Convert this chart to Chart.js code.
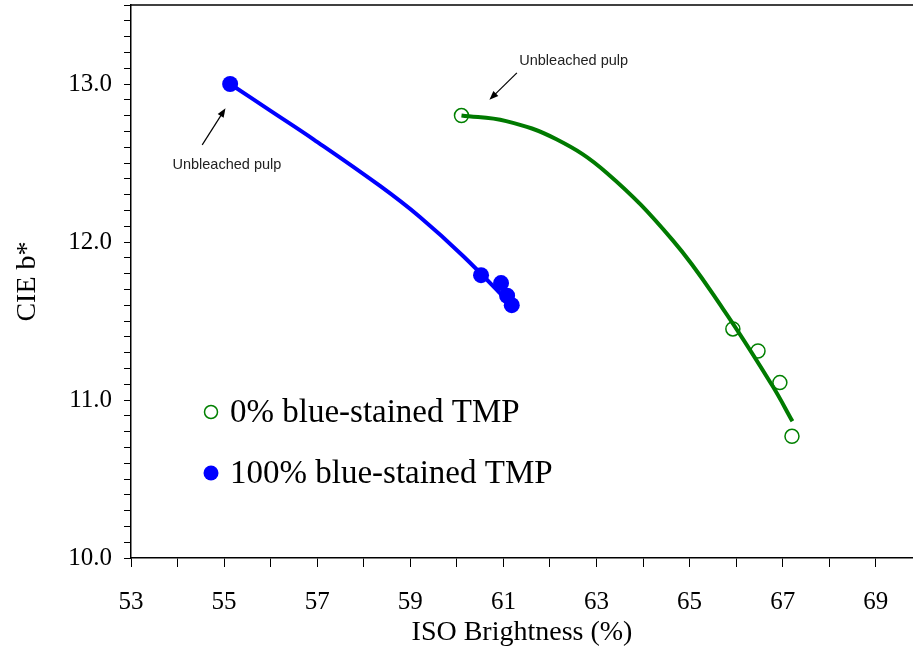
<!DOCTYPE html>
<html>
<head>
<meta charset="utf-8">
<script src="https://cdn.jsdelivr.net/npm/chart.js@4"></script>
<style>
  html, body { margin: 0; padding: 0; background: #fff; overflow: hidden; }
  #wrap { width: 913px; height: 653px; position: relative; }
</style>
</head>
<body>
<div id="wrap"><canvas id="cieChart"></canvas></div>
<script>
// measured points, ISO brightness (%) vs CIE b*
const greenX = [60.10, 65.93, 66.47, 66.94, 67.20];
const greenY = [12.80, 11.45, 11.31, 11.11, 10.77];
const blueX = [55.13, 60.52, 60.95, 61.08, 61.18];
const blueY = [13.00, 11.79, 11.74, 11.66, 11.60];

// fitted curves
const greenFitX = [60.10, 61.06, 62.14, 63.21, 64.64, 65.71, 66.78, 67.21];
const greenFitY = [12.80, 12.765, 12.65, 12.44, 12.01, 11.58, 11.09, 10.865];
const blueFitX = [55.13, 56.00, 56.92, 58.35, 59.20, 60.14, 61.18];
const blueFitY = [13.00, 12.83, 12.65, 12.355, 12.16, 11.91, 11.60];

const legendLabels = ['0% blue-stained TMP', '100% blue-stained TMP'];
const noteText = 'Unbleached pulp';

function pts(xs, ys) {
    return xs.map((x, i) => ({ x: x, y: ys[i] }));
}

const serif = '"Liberation Serif", "Times New Roman", serif';

// frame top, arrows + notes + legend drawn over the plot
const overlay = {
    id: 'overlay',
    afterDatasetsDraw(chart) {
        const ctx = chart.ctx;
        const xs = chart.scales.x, ys = chart.scales.y;
        const px = v => xs.getPixelForValue(v);
        const py = v => ys.getPixelForValue(v);
        const area = chart.chartArea;

        ctx.save();
        ctx.strokeStyle = '#000';
        ctx.lineWidth = 1.5;
        ctx.beginPath();
        ctx.moveTo(area.left, area.top);
        ctx.lineTo(chart.width, area.top);
        ctx.stroke();
        ctx.restore();

        function arrow(x1, y1, x2, y2) {
            const a = Math.atan2(y2 - y1, x2 - x1);
            ctx.save();
            ctx.strokeStyle = '#000';
            ctx.fillStyle = '#000';
            ctx.lineWidth = 1.2;
            ctx.beginPath();
            ctx.moveTo(x1, y1);
            ctx.lineTo(x2 - 6 * Math.cos(a), y2 - 6 * Math.sin(a));
            ctx.stroke();
            ctx.beginPath();
            ctx.moveTo(x2, y2);
            ctx.lineTo(x2 - 9 * Math.cos(a) + 3.5 * Math.sin(a), y2 - 9 * Math.sin(a) - 3.5 * Math.cos(a));
            ctx.lineTo(x2 - 9 * Math.cos(a) - 3.5 * Math.sin(a), y2 - 9 * Math.sin(a) + 3.5 * Math.cos(a));
            ctx.closePath();
            ctx.fill();
            ctx.restore();
        }

        ctx.save();
        ctx.font = '14.5px "Liberation Sans", Arial, sans-serif';
        ctx.fillStyle = '#222';
        ctx.textAlign = 'center';
        ctx.textBaseline = 'middle';
        ctx.fillText(noteText, px(55.06), py(12.486));
        ctx.fillText(noteText, px(62.51), py(13.146));
        ctx.restore();

        arrow(px(54.53), py(12.615), px(55.03), py(12.846));
        arrow(px(61.29), py(13.07), px(60.70), py(12.90));

        // legend
        const left = area.left;
        ctx.save();
        ctx.font = '33px ' + serif;
        ctx.fillStyle = '#000';
        ctx.textAlign = 'left';
        ctx.textBaseline = 'middle';
        ctx.beginPath();
        ctx.arc(left + 80, 412, 6.5, 0, Math.PI * 2);
        ctx.strokeStyle = '#008000';
        ctx.lineWidth = 1.5;
        ctx.stroke();
        ctx.fillText(legendLabels[0], left + 99, 413);
        ctx.beginPath();
        ctx.arc(left + 80, 473, 7.5, 0, Math.PI * 2);
        ctx.fillStyle = '#0000ff';
        ctx.fill();
        ctx.fillStyle = '#000';
        ctx.fillText(legendLabels[1], left + 99, 474);
        ctx.restore();
    }
};

const ctx = document.getElementById('cieChart').getContext('2d');
new Chart(ctx, {
    type: 'scatter',
    data: {
        datasets: [
            {
                label: 'green fit',
                data: pts(greenFitX, greenFitY),
                showLine: true,
                borderColor: '#007a00',
                borderWidth: 4,
                pointRadius: 0,
                tension: 0.4,
                order: 3
            },
            {
                label: 'blue fit',
                data: pts(blueFitX, blueFitY),
                showLine: true,
                borderColor: '#0000ff',
                borderWidth: 4,
                pointRadius: 0,
                tension: 0.4,
                order: 3
            },
            {
                label: legendLabels[0],
                data: pts(greenX, greenY),
                pointRadius: 7,
                pointBorderWidth: 1.5,
                borderColor: '#008000',
                backgroundColor: 'rgba(0,0,0,0)',
                order: 1
            },
            {
                label: legendLabels[1],
                data: pts(blueX, blueY),
                pointRadius: 8,
                pointBorderWidth: 0,
                borderColor: '#0000ff',
                backgroundColor: '#0000ff',
                order: 1
            }
        ]
    },
    options: {
        responsive: true,
        maintainAspectRatio: false,
        animation: false,
        layout: { autoPadding: false, padding: { top: 5, right: 0, left: 0, bottom: 0 } },
        plugins: {
            legend: { display: false },
            tooltip: { enabled: false }
        },
        scales: {
            x: {
                type: 'linear',
                min: 53,
                max: 69.8,
                afterFit: s => { s.height = 95; s.paddingLeft = 0; s.paddingRight = 0; },
                grid: { drawOnChartArea: false, tickLength: 9, color: '#000', tickColor: '#000' },
                border: { color: '#000', width: 1.5 },
                ticks: {
                    stepSize: 1,
                    autoSkip: false,
                    includeBounds: false,
                    maxRotation: 0,
                    color: '#000',
                    padding: 20,
                    font: { family: serif, size: 25 },
                    callback: v => (Math.abs(v - Math.round(v)) < 1e-6 && Math.round(v) % 2 === 1) ? String(Math.round(v)) : ''
                },
                title: {
                    display: true,
                    text: 'ISO Brightness (%)',
                    color: '#000',
                    font: { family: serif, size: 28 },
                    padding: { top: 2, bottom: 4 }
                }
            },
            y: {
                type: 'linear',
                min: 10,
                max: 13.5,
                afterFit: s => { s.width = 131; s.paddingTop = 0; s.paddingBottom = 0; },
                grid: { drawOnChartArea: false, tickLength: 7, color: '#000', tickColor: '#000' },
                border: { color: '#000', width: 1.5 },
                ticks: {
                    stepSize: 0.1,
                    autoSkip: false,
                    includeBounds: false,
                    color: '#000',
                    padding: 12,
                    font: { family: serif, size: 25 },
                    callback: v => Math.abs(v - Math.round(v)) < 1e-6 ? Math.round(v).toFixed(1) : ''
                },
                title: {
                    display: true,
                    text: 'CIE b*',
                    color: '#000',
                    font: { family: serif, size: 28 },
                    padding: { top: 11, bottom: 4 }
                }
            }
        }
    },
    plugins: [overlay]
});
</script>
</body>
</html>
